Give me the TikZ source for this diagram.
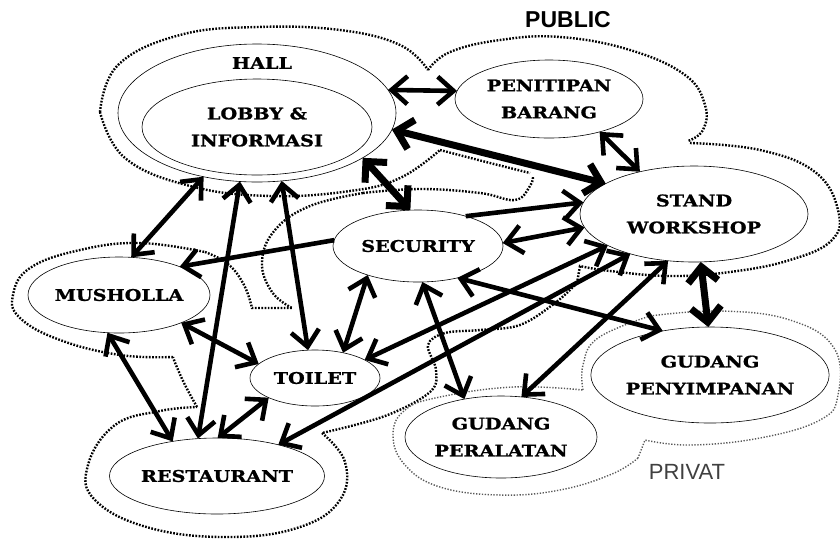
\documentclass[tikz,border=0pt]{standalone}
\usepackage{fontspec}
\usepackage{tikz}
\usetikzlibrary{arrows.meta}
\usetikzlibrary{shapes.geometric}
\newfontfamily\slab[FakeStretch=1.2, BoldFeatures={FakeBold=1.2}]{DejaVu Serif}
\newfontfamily\zonefont{Liberation Sans}
\newcommand\roomfont{\slab\bfseries\fontsize{16}{27}\selectfont}
\tikzset{room/.style = {ellipse, draw, fill = white, line width = 0.6pt, inner sep = 0, outer sep = 0, align = center, font = \roomfont}}
\tikzset{link/.style = {line width = 4.6pt, {Straight Barb[length = 16pt, width = 28pt]}-{Straight Barb[length = 16pt, width = 28pt]}}}
\tikzset{biglink/.style = {line width = 7pt, {Straight Barb[length = 15pt, width = 30pt]}-{Straight Barb[length = 15pt, width = 30pt]}}}
\tikzset{oneway/.style = {line width = 4.6pt, -{Straight Barb[length = 16pt, width = 28pt]}}}
\tikzset{pubzone/.style = {line width = 2.4pt, dash pattern = on 1.7pt off 1.5pt}}
\tikzset{privzone/.style = {line width = 1.4pt, dash pattern = on 1.3pt off 1.6pt, black!65}}

\begin{document}
\begin{tikzpicture}[x = 1pt, y = -1pt]
      \useasboundingbox (0, 0) rectangle (840, 542);
      % public zone
      \draw[pubzone] plot[smooth, tension = 0.7] coordinates {(100, 112) (118, 65) (180, 35) (258, 27) (340, 30) (400, 45) (428, 70)};
      \draw[pubzone] plot[smooth, tension = 0.7] coordinates {(428, 70) (450, 52) (500, 40) (560, 37) (630, 50) (685, 75) (705, 105) (703, 130) (688, 141)};
      \draw[pubzone] plot[smooth, tension = 0.7] coordinates {(690, 143) (760, 150) (815, 172) (838, 210) (832, 240) (790, 260) (730, 272) (670, 276) (610, 271) (580, 266)} -- (577, 283);
      \draw[pubzone] plot[smooth, tension = 0.7] coordinates {(100, 112) (125, 158) (190, 186) (270, 196) (350, 191) (400, 178) (440, 150)};
      \draw[pubzone] plot[smooth, tension = 0.7] coordinates {(440, 150) (490, 163) (530, 173)};
      \draw[pubzone] plot[smooth, tension = 0.7] coordinates {(363, 193) (420, 189) (480, 193) (515, 200) (530, 186) (533, 176)};
      \draw[pubzone] plot[smooth, tension = 0.7] coordinates {(363, 193) (310, 206) (275, 230) (262, 262) (272, 292) (292, 308)};
      \draw[pubzone] plot[smooth, tension = 0.7] coordinates {(205, 252) (228, 264) (244, 285) (252, 308)} -- (292, 308);
      \draw[pubzone] plot[smooth, tension = 0.6] coordinates {(577, 283) (555, 303) (520, 325) (480, 330) (445, 333) (428, 345) (436, 370) (430, 392) (385, 416) (322, 433)};
      \draw[pubzone] plot[smooth, tension = 0.7] coordinates {(322, 433) (345, 462) (340, 500) (300, 527) (230, 537) (150, 528) (95, 500) (88, 465) (115, 425) (160, 411) (197, 407)};
      \draw[pubzone] plot[smooth, tension = 0.7] coordinates {(197, 407) (185, 385) (176, 365) (173, 357)};
      \draw[pubzone] plot[smooth, tension = 0.7] coordinates {(173, 357) (120, 355) (60, 340) (20, 318) (13, 295) (30, 268) (80, 250) (140, 243) (205, 252)};
      % privat zone
      \draw[privzone] plot[smooth, tension = 0.7] coordinates {(650, 316) (720, 311) (790, 320) (834, 348) (838, 395) (820, 420) (760, 438) (690, 445) (645, 440)} -- (638, 458);
      \draw[privzone] plot[smooth, tension = 0.7] coordinates {(638, 458) (612, 474) (560, 490) (500, 495) (440, 487) (405, 465) (393, 435) (405, 410) (440, 397) (513, 387) (583, 390)};
      \draw[privzone] plot[smooth, tension = 0.7] coordinates {(583, 390) (583, 365) (598, 338) (650, 316)};
      % rooms
      \node[room, minimum width = 278, minimum height = 138] (hall) at (257, 113) {};
      \node[font = \roomfont] (halltitle) at (262, 63) {HALL};
      \node[room, minimum width = 230, minimum height = 96] (lobby) at (257, 127) {LOBBY \&\\INFORMASI};
      \node[room, minimum width = 188, minimum height = 78] (penitipan) at (549, 99) {PENITIPAN\\BARANG};
      \node[room, minimum width = 228, minimum height = 96] (stand) at (694, 214) {STAND\\WORKSHOP};
      \node[room, minimum width = 170, minimum height = 72] (security) at (418, 246) {SECURITY};
      \node[room, minimum width = 182, minimum height = 76] (musholla) at (119, 295) {MUSHOLLA};
      \node[room, minimum width = 130, minimum height = 56] (toilet) at (315, 378) {TOILET};
      \node[room, minimum width = 204, minimum height = 76] (restaurant) at (217, 476) {RESTAURANT};
      \node[room, minimum width = 192, minimum height = 82] (peralatan) at (501, 437) {GUDANG\\PERALATAN};
      \node[room, minimum width = 230, minimum height = 96] (penyimpanan) at (710, 375) {GUDANG\\PENYIMPANAN};
      \node[font = \zonefont\bfseries\fontsize{23}{23}\selectfont] (public) at (568, 20) {PUBLIC};
      \node[font = \zonefont\fontsize{22}{22}\selectfont, text = black!75] (privat) at (687, 472) {PRIVAT};
      % relations
      \foreach \a/\b in {hall.10/penitipan.175, penitipan.-33/stand.142, security.2/stand.187, toilet.20/stand.200,
                         restaurant.27/stand.212, peralatan.63/stand.241, security.-39/penyimpanan.137,
                         security.-83/peralatan.134, security.210/toilet.42, hall.230/musholla.72,
                         hall.256/restaurant.117, hall.-70/toilet.104, musholla.-24/toilet.166,
                         musholla.253/restaurant.142, toilet.203/restaurant.89} {
        \draw[link] (\a) -- (\b);
      }
      \foreach \a/\b in {hall.-7/stand.161, hall.-23/security.102, stand.-82/penyimpanan.92} {
        \draw[biglink] (\a) -- (\b);
      }
      \draw[oneway] (security.32) -- (stand.174);
      \draw[oneway] (security.176) -- (musholla.25);
    \end{tikzpicture}
\end{document}
